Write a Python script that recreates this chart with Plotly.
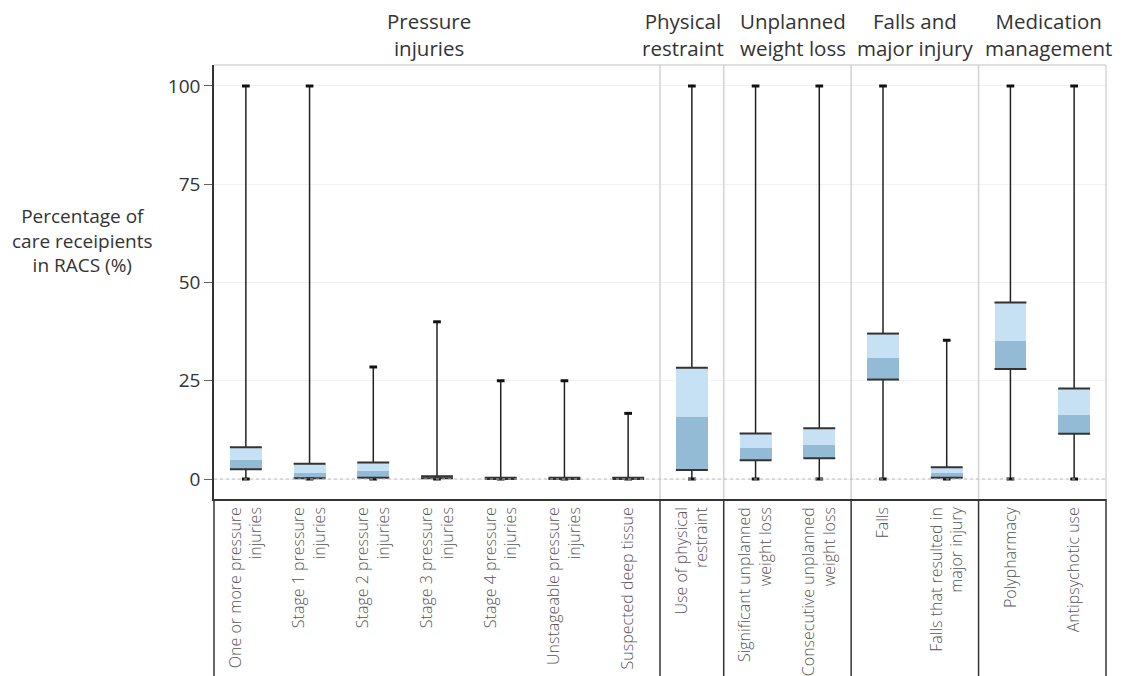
import plotly.graph_objects as go

# ---------------- data ----------------
categories = [
    "One or more pressure<br>injuries",
    "Stage 1 pressure<br>injuries",
    "Stage 2 pressure<br>injuries",
    "Stage 3 pressure<br>injuries",
    "Stage 4 pressure<br>injuries",
    "Unstageable pressure<br>injuries",
    "Suspected deep tissue",
    "Use of physical<br>restraint",
    "Significant unplanned<br>weight loss",
    "Consecutive unplanned<br>weight loss",
    "Falls",
    "Falls that resulted in<br>major injury",
    "Polypharmacy",
    "Antipsychotic use",
]
groups = ["Pressure<br>injuries", "Physical<br>restraint", "Unplanned<br>weight loss",
          "Falls and<br>major injury", "Medication<br>management"]
group_sizes = [7, 1, 2, 2, 2]

mins    = [0, 0, 0, 0, 0, 0, 0, 0, 0, 0, 0, 0, 0, 0]
q1s     = [2.5, 0.2, 0.3, 0.2, 0.0, 0.0, 0.0, 2.3, 4.8, 5.3, 25.3, 0.3, 28.0, 11.5]
medians = [4.8, 1.6, 2.1, 0.3, 0.1, 0.1, 0.1, 15.9, 7.8, 8.7, 30.8, 1.5, 35.2, 16.3]
q3s     = [8.1, 3.9, 4.2, 0.7, 0.3, 0.3, 0.3, 28.3, 11.6, 12.9, 37.0, 3.0, 44.9, 23.0]
maxs    = [100, 100, 28.5, 40, 25, 25, 16.7, 100, 100, 100, 100, 35.3, 100, 100]

y_ticks = [0, 25, 50, 75, 100]
y_title = "Percentage of<br>care receipients<br>in RACS (%)"

# ---------------- styling ----------------
W, H = 1126, 676
OFF = 7  # page offset of the figure inside the browser body
ML, MT = 213 - OFF, 64 - OFF
PW, PH = 892, 434
MR = W - ML - PW
MB = H - MT - PH
LIGHT = "#c6e1f3"
DARK = "#93bbd5"
FONT = "Open Sans"

xs = list(range(len(categories)))
n = len(categories)

fig = go.Figure()

# lower part of box (q1 -> median), darker
fig.add_trace(go.Bar(x=xs, base=q1s, y=[m - q for m, q in zip(medians, q1s)],
                     width=0.5, marker=dict(color=DARK, line=dict(width=0)),
                     hoverinfo="skip"))
# upper part of box (median -> q3), lighter
fig.add_trace(go.Bar(x=xs, base=medians, y=[q - m for q, m in zip(q3s, medians)],
                     width=0.5, marker=dict(color=LIGHT, line=dict(width=0)),
                     hoverinfo="skip"))

# whiskers
wx, wy = [], []
for i in xs:
    wx += [i, i, None, i, i, None]
    wy += [mins[i], q1s[i], None, q3s[i], maxs[i], None]
fig.add_trace(go.Scatter(x=wx, y=wy, mode="lines",
                         line=dict(color="#222222", width=1.5), hoverinfo="skip"))

# whisker caps
fig.add_trace(go.Scatter(x=xs + xs, y=mins + maxs, mode="markers",
                         marker=dict(symbol="line-ew", size=5.5,
                                     line=dict(color="#111111", width=3)),
                         hoverinfo="skip"))

# box top / bottom edges
fig.add_trace(go.Scatter(x=xs + xs, y=q1s + q3s, mode="markers",
                         marker=dict(symbol="line-ew", size=22.8,
                                     line=dict(color="#333333", width=2)),
                         hoverinfo="skip"))

shapes = []
# light border top and right of plot area
shapes.append(dict(type="line", xref="paper", yref="paper", x0=0, x1=1, y0=1, y1=1,
                   line=dict(color="#d6d6d6", width=1.5)))
shapes.append(dict(type="line", xref="paper", yref="paper", x0=1, x1=1, y0=0, y1=1,
                   line=dict(color="#d6d6d6", width=1.5)))
# group separators
bottom = -(MB + OFF) / PH
cum = 0
bounds = []
for s in group_sizes:
    cum += s
    bounds.append(cum / n)
for b in bounds[:-1]:
    shapes.append(dict(type="line", xref="paper", yref="paper", x0=b, x1=b, y0=0, y1=1,
                       line=dict(color="#d2d2d2", width=1.5)))
for b in [0] + bounds:
    shapes.append(dict(type="line", xref="paper", yref="paper", x0=b, x1=b, y0=bottom, y1=0,
                       line=dict(color="#333333", width=1.5)))
# zero reference line
shapes.append(dict(type="line", xref="paper", yref="y", x0=0, x1=1, y0=0, y1=0,
                   line=dict(color="#bbbbbb", width=1, dash="dot")))

annotations = []
# group headers
header_shift = [-8, -9, 6, 0, 6]
start = 0
for g, s, sh in zip(groups, group_sizes, header_shift):
    cx = (start + s / 2) / n
    start += s
    annotations.append(dict(text=g, xref="paper", yref="paper", x=cx, y=1 + (64 - 33.5) / PH,
                            xanchor="center", yanchor="middle", showarrow=False, xshift=sh,
                            font=dict(family=FONT, size=20.5, color="#333333")))
# y title
annotations.append(dict(text=y_title, xref="paper", yref="paper",
                        x=(81 - 213) / PW, y=(64 + PH - 239) / PH,
                        xanchor="center", yanchor="middle", showarrow=False,
                        font=dict(family=FONT, size=19, color="#333333")))

fig.update_layout(
    width=W, height=H,
    margin=dict(l=ML, r=MR, t=MT, b=MB, autoexpand=False),
    paper_bgcolor="white", plot_bgcolor="white",
    barmode="overlay", showlegend=False, bargap=0,
    shapes=shapes, annotations=annotations,
    font=dict(family=FONT, color="#333333"),
)
fig.update_xaxes(
    range=[-0.5, n - 0.5], tickvals=xs, ticktext=categories, tickangle=-90,
    tickfont=dict(family=FONT, size=16, color="#555555", weight=300),
    showgrid=False, zeroline=False, showline=True, linecolor="#333333", linewidth=1.5,
    ticks="", fixedrange=True,
)
fig.update_yaxes(
    range=[-5.09, 105.34], tickvals=y_ticks, ticktext=[str(v) for v in y_ticks],
    tickfont=dict(family=FONT, size=19, color="#333333"),
    showgrid=True, gridcolor="#f1f1f1", gridwidth=1, zeroline=False,
    showline=True, linecolor="#333333", linewidth=1.5,
    ticks="outside", ticklen=8, tickcolor="#666666", fixedrange=True,
)

fig.write_html("out.html")
